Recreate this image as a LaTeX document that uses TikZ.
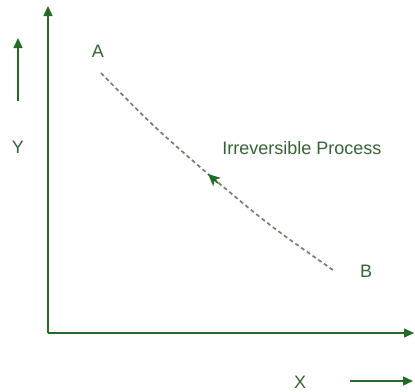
\documentclass[tikz,border=0pt]{standalone}
\usepackage{fontspec}
\setmainfont{Liberation Sans}
\definecolor{axisgreen}{RGB}{36,108,36}
\definecolor{labelgreen}{RGB}{52,100,52}
\definecolor{pathgray}{RGB}{118,128,112}
\usetikzlibrary{arrows.meta}

\begin{document}
\begin{tikzpicture}[x=1pt, y=-1pt,
      axis/.style={draw=axisgreen, line width=1.4pt, -{Triangle[length=10pt, width=9pt]}},
      lbl/.style={text=labelgreen, font=\fontsize{18}{21}\selectfont, inner sep=0pt},
      proc/.style={draw=pathgray, line width=1.7pt, dash pattern=on 4pt off 3pt},
      procarr/.style={draw=axisgreen, line width=1.7pt, -{Stealth[length=12pt, width=11pt, inset=3pt]}}
    ]
      \useasboundingbox (0,0) rectangle (415,391);
      \coordinate (origin) at (48,333);
      \coordinate (ytop) at (48,6);
      \coordinate (xend) at (414,333);
      \draw[axis] (origin) -- (ytop);
      \draw[axis] (origin) -- (xend);
      % direction hints
      \coordinate (yhintlo) at (18,101);
      \coordinate (yhinthi) at (18,38);
      \coordinate (xhintlo) at (350,381);
      \coordinate (xhinthi) at (413,381);
      \draw[axis] (yhintlo) -- (yhinthi);
      \draw[axis] (xhintlo) -- (xhinthi);
      \node[lbl] (ylab) at (18,147) {Y};
      \node[lbl] (xlab) at (300,382) {X};
      % states and process
      \node[lbl] (stateA) at (98,51) {A};
      \node[lbl] (stateB) at (366,271) {B};
      \coordinate (pA) at (100,72);
      \coordinate (pB) at (333,270);
      \coordinate (pM) at (208,174);
      \coordinate (pT) at (218,183);
      \draw[proc] (pB) .. controls (270,226) .. (pM) .. controls (154,127) .. (pA);
      \draw[procarr] (pT) -- (pM);
      \node[lbl] (proclab) at (302,148) {Irreversible Process};
    \end{tikzpicture}
\end{document}
